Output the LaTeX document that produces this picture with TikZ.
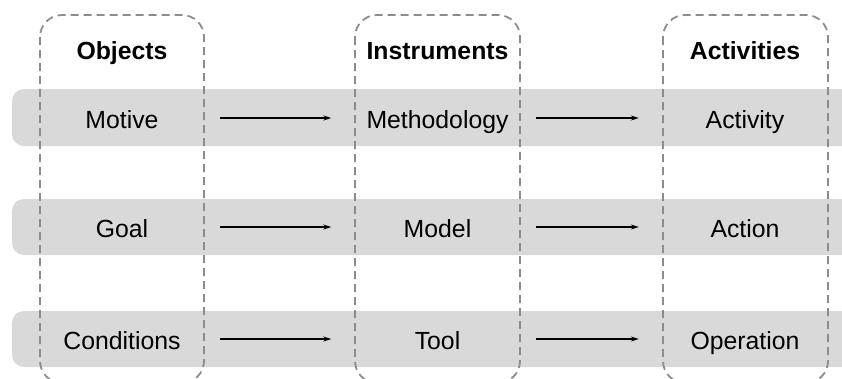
\documentclass[tikz,border=0pt]{standalone}
\usepackage{fontspec}
\setmainfont{Liberation Sans}
\usetikzlibrary{arrows.meta}
\definecolor{bandgray}{HTML}{D9D9D9}
\definecolor{dashgray}{HTML}{8C8C8C}
\begin{document}
\begin{tikzpicture}[
            x=1pt, y=-1pt,
            band/.style = {fill=bandgray, rounded corners=12pt},
            column/.style = {draw=dashgray, line width=1.8pt, dash pattern=on 8pt off 5pt, rounded corners=22pt},
            every node/.style = {font=\fontsize{24.8}{30}\selectfont, align=center},
            head/.style = {anchor=base, font=\fontsize{24.8}{30}\selectfont\bfseries},
            item/.style = {minimum width=164pt, inner sep=0pt, text height=24pt, text depth=3pt},
            link/.style = {-{Stealth[length=8pt,width=5pt]}, line width=1.3pt, shorten <=16pt, shorten >=24pt}
          ]
          \path[use as bounding box, clip] (0,0) rectangle (842,378);
          % rows
          \fill[band] (12,89) rectangle (880,146);
          \fill[band] (12,199) rectangle (880,255);
          \fill[band] (12,311) rectangle (880,367);
          % columns
          \draw[column] (40,15) rectangle (204,383);
          \draw[column] (355,15) rectangle (520,383);
          \draw[column] (663,15) rectangle (828,383);
          \node[head] (objects) at (122,59) {Objects};
          \node[head] (instruments) at (437.5,59) {Instruments};
          \node[head] (activities) at (745,59) {Activities};
          \node[item] (motive) at (122,118) {Motive};
          \node[item] (goal) at (122,227) {Goal};
          \node[item] (conditions) at (122,339) {Conditions};
          \node[item] (methodology) at (437.5,118) {Methodology};
          \node[item] (model) at (437.5,227) {Model};
          \node[item] (tool) at (437.5,339) {Tool};
          \node[item] (activity) at (745,118) {Activity};
          \node[item] (action) at (745,227) {Action};
          \node[item] (operation) at (745,339) {Operation};
          \draw[link] (motive) -- (methodology);
          \draw[link] (methodology) -- (activity);
          \draw[link] (goal) -- (model);
          \draw[link] (model) -- (action);
          \draw[link] (conditions) -- (tool);
          \draw[link] (tool) -- (operation);
        \end{tikzpicture}
\end{document}
